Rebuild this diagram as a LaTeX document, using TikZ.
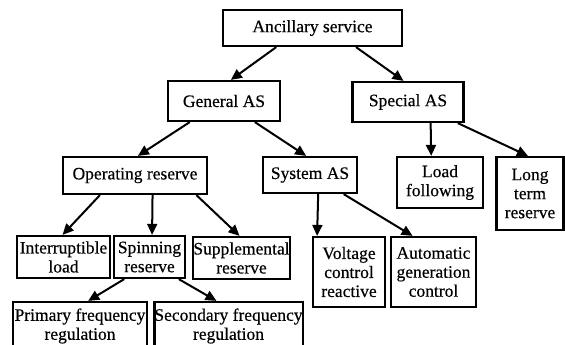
\documentclass[tikz,border=0pt]{standalone}
\usepackage{fontspec}
\setmainfont[FakeBold=0.4]{Liberation Serif}
\usetikzlibrary{arrows.meta,calc}

\tikzset{
  box/.style={draw, line width=2.2pt, inner sep=0pt, align=center,
    font=\fontsize{17.5}{19}\selectfont},
  link/.style={line width=2pt, -{Triangle[length=11pt,width=10pt]}},
}
% position of a point a fraction f along the bottom / top edge of a node
\newcommand{\lowerat}[2]{($(#1.south west)!#2!(#1.south east)$)}
\newcommand{\upperat}[2]{($(#1.north west)!#2!(#1.north east)$)}

\begin{document}
\begin{tikzpicture}[x=1pt,y=-1pt]
  \useasboundingbox (0,0) rectangle (565,345);
  \begin{scope}
    \clip (0,0) rectangle (565,345);

    % level 1
    \node[box, minimum width=179pt, minimum height=36pt] (anc) at (312.5,28) {Ancillary service};

    % level 2
    \node[box, minimum width=112pt, minimum height=40pt] (gen) at (224,101) {General AS};
    \node[box, minimum width=111pt, minimum height=40pt] (spe) at (408,102) {Special AS};

    % level 3
    \node[box, minimum width=144pt, minimum height=37pt] (opr) at (135,175.5) {Operating reserve};
    \node[box, minimum width=94pt, minimum height=36pt] (sys) at (310,175) {System AS};
    \node[box, minimum width=86pt, minimum height=51pt] (lod) at (440,182.5) {Load\\following};
    \node[box, minimum width=67pt, minimum height=73pt] (lng) at (530,193.5) {Long\\term\\reserve};

    % level 4
    \node[box, minimum width=93pt, minimum height=42pt] (int) at (63.5,257) {Interruptible\\load};
    \node[box, minimum width=71pt, minimum height=42pt] (spn) at (149.5,257) {Spinning\\reserve};
    \node[box, minimum width=97pt, minimum height=42pt] (sup) at (241.5,258) {Supplemental\\reserve};
    \node[box, minimum width=72pt, minimum height=70pt] (vol) at (349,272) {Voltage\\control\\reactive};
    \node[box, minimum width=85pt, minimum height=70pt] (aut) at (433.5,272) {Automatic\\generation\\control};

    % level 5
    \node[box, minimum width=134pt, minimum height=48pt] (pri) at (80,326) {Primary frequency\\regulation};
    \node[box, minimum width=147pt, minimum height=48pt] (sec) at (228.5,326) {Secondary frequency\\regulation};

    % connectors
    \draw[link] \lowerat{anc}{0.30} -- \upperat{gen}{0.56};
    \draw[link] \lowerat{anc}{0.74} -- \upperat{spe}{0.46};
    \draw[link] \lowerat{gen}{0.2} -- \upperat{opr}{0.52};
    \draw[link] \lowerat{gen}{0.77} -- \upperat{sys}{0.46};
    \draw[link] \lowerat{spe}{0.7} -- \upperat{lod}{0.4};
    \draw[link] \lowerat{spe}{0.94} -- \upperat{lng}{0.47};
    \draw[link] \lowerat{opr}{0.26} -- \upperat{int}{0.49};
    \draw[link] \lowerat{opr}{0.62} -- \upperat{spn}{0.535};
    \draw[link] \lowerat{opr}{0.92} -- \upperat{sup}{0.48};
    \draw[link] \lowerat{sys}{0.585} -- \upperat{vol}{0.07};
    \draw[link] \lowerat{sys}{0.85} -- \upperat{aut}{0.26};
    \draw[link] \lowerat{spn}{0.155} -- \upperat{pri}{0.56};
    \draw[link] \lowerat{spn}{0.9} -- \upperat{sec}{0.42};
  \end{scope}
\end{tikzpicture}
\end{document}
